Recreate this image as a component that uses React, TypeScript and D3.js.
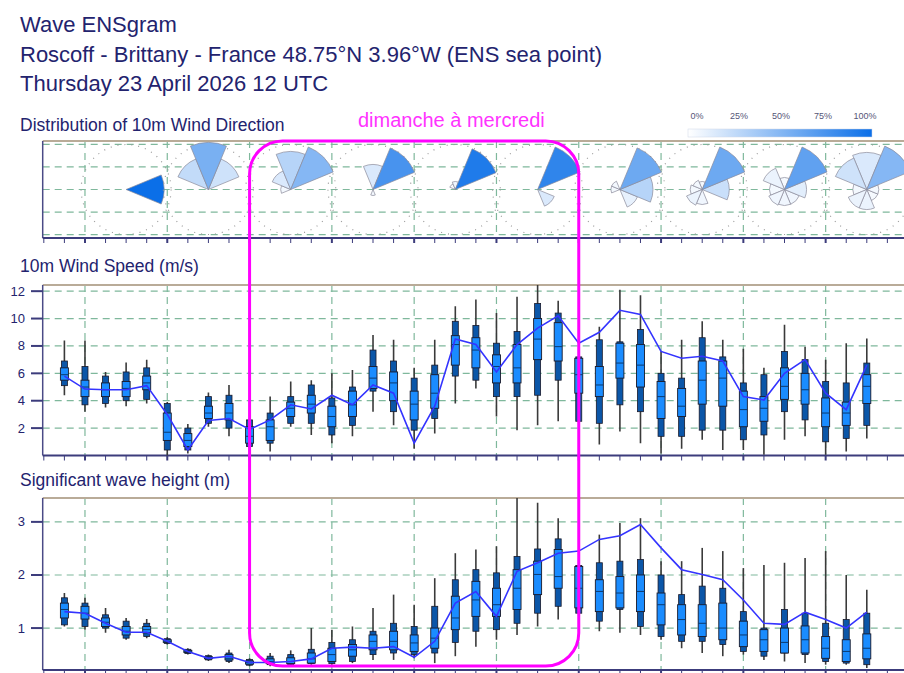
import React from 'react';
import * as d3 from 'd3';

const W = 904;
const H = 673;

const titleLines = [
  'Wave ENSgram',
  'Roscoff - Brittany - France 48.75°N 3.96°W (ENS sea point)',
  'Thursday 23 April 2026 12 UTC',
];

// 10m wind speed ensemble (m/s), one value per 6h step
const windMin = [4.4, 3.2, 3.5, 3.6, 3.8, 0.0, 0.15, 2.1, 1.4, 0.0, 0.3, 2.1, 1.5, 0.9, 1.4, 3.2, 2.2, 0.5, 1.6, 3.8, 4.9, 2.85, 1.85, 2.2, 2.5, 2.35, 0.8, 1.75, 0.9, 0.15, 0.5, 1.15, 0.4, 0.4, 0.05, 1.15, 1.4, 0.05, 0.3, 1.25];
const windP10 = [5.1, 3.7, 3.8, 4.0, 4.1, 0.4, 0.4, 2.35, 2.0, 0.65, 0.9, 2.35, 2.35, 1.5, 2.2, 4.7, 3.2, 1.85, 2.7, 5.8, 5.5, 4.3, 4.3, 4.4, 5.5, 2.5, 2.35, 3.7, 3.2, 1.4, 1.4, 1.85, 1.85, 1.15, 1.5, 3.2, 2.6, 1.0, 1.25, 2.2];
const windP25 = [5.5, 4.3, 4.3, 4.3, 4.8, 1.1, 0.65, 2.7, 2.6, 0.9, 1.1, 2.85, 3.1, 2.1, 2.85, 4.9, 4.0, 2.6, 3.45, 6.6, 6.4, 5.3, 5.3, 7.0, 6.9, 4.55, 4.3, 5.65, 5.0, 2.7, 2.85, 3.75, 3.6, 2.1, 2.5, 4.1, 3.75, 2.1, 2.2, 3.8];
const windMed = [5.9, 5.0, 4.8, 4.9, 5.3, 1.7, 1.1, 3.1, 3.1, 1.4, 2.1, 3.45, 3.75, 2.85, 3.7, 5.65, 5.3, 3.75, 4.55, 8.1, 7.7, 6.5, 6.4, 8.5, 7.95, 5.9, 5.15, 6.75, 6.6, 4.3, 3.6, 5.5, 5.65, 3.35, 3.45, 5.05, 4.8, 3.1, 3.1, 5.05];
const windP75 = [6.4, 5.5, 5.3, 5.4, 5.8, 3.1, 1.6, 3.6, 3.8, 2.1, 2.6, 3.9, 4.4, 3.6, 4.7, 6.5, 6.1, 4.7, 5.9, 8.75, 8.6, 7.35, 8.1, 10.0, 9.7, 7.1, 6.5, 8.2, 8.1, 5.4, 4.9, 6.9, 6.9, 4.7, 4.3, 6.4, 6.0, 4.2, 3.9, 5.9];
const windP90 = [6.9, 6.5, 5.8, 6.1, 6.4, 3.8, 2.0, 4.3, 4.4, 2.6, 3.1, 4.3, 5.15, 4.2, 5.0, 7.7, 6.9, 5.65, 6.6, 9.8, 9.5, 8.2, 9.05, 11.1, 10.4, 7.2, 8.45, 8.3, 9.2, 6.0, 5.65, 8.6, 7.2, 5.3, 5.9, 7.6, 7.0, 5.4, 5.3, 6.75];
const windMax = [8.4, 8.4, 6.1, 6.8, 7.0, 3.9, 2.3, 4.6, 5.15, 2.7, 4.3, 5.4, 5.5, 6.0, 6.25, 8.8, 8.45, 6.4, 8.45, 10.9, 11.4, 10.4, 11.6, 12.5, 11.3, 9.2, 9.4, 12.1, 11.7, 7.6, 8.45, 9.8, 8.45, 7.8, 6.4, 9.55, 7.95, 7.0, 8.2, 8.55];
const windHres = [5.8, 4.85, 4.8, 4.8, 5.1, 3.0, 0.4, 2.55, 2.7, 1.9, 2.6, 3.7, 3.4, 4.4, 3.7, 5.15, 4.55, 0.9, 3.6, 8.5, 8.1, 6.1, 8.1, 9.3, 10.2, 8.2, 9.0, 10.6, 10.3, 7.6, 7.1, 7.25, 6.9, 4.3, 4.05, 6.0, 7.0, 4.55, 3.35, 6.6];

// significant wave height ensemble (m)
const waveMin = [1.03, 0.97, 0.91, 0.78, 0.81, 0.69, 0.5, 0.38, 0.34, 0.28, 0.28, 0.28, 0.31, 0.31, 0.34, 0.4, 0.4, 0.43, 0.34, 0.47, 0.65, 0.78, 0.87, 1.03, 1.16, 1.22, 0.94, 0.91, 0.87, 0.78, 0.62, 0.53, 0.47, 0.5, 0.4, 0.37, 0.34, 0.31, 0.31, 0.25];
const waveP10 = [1.06, 1.03, 1.0, 0.81, 0.84, 0.71, 0.52, 0.4, 0.37, 0.3, 0.31, 0.31, 0.33, 0.33, 0.37, 0.5, 0.53, 0.5, 0.53, 0.73, 0.94, 0.97, 1.09, 1.28, 1.41, 1.28, 1.13, 1.35, 1.03, 0.84, 0.75, 0.75, 0.69, 0.56, 0.47, 0.53, 0.5, 0.37, 0.34, 0.31];
const waveP25 = [1.19, 1.17, 1.03, 0.87, 0.91, 0.73, 0.54, 0.42, 0.4, 0.32, 0.33, 0.33, 0.34, 0.37, 0.47, 0.59, 0.59, 0.56, 0.62, 0.97, 1.22, 1.22, 1.35, 1.63, 1.75, 1.38, 1.31, 1.38, 1.31, 1.06, 0.87, 0.84, 0.78, 0.65, 0.56, 0.53, 0.53, 0.43, 0.37, 0.42];
const waveMed = [1.35, 1.28, 1.11, 0.94, 0.97, 0.75, 0.56, 0.44, 0.43, 0.35, 0.37, 0.37, 0.42, 0.5, 0.59, 0.75, 0.75, 0.72, 0.81, 1.19, 1.53, 1.44, 1.75, 2.01, 1.97, 1.75, 1.69, 1.66, 1.69, 1.44, 1.16, 1.09, 1.0, 0.87, 0.78, 0.73, 0.78, 0.62, 0.56, 0.62];
const waveP75 = [1.47, 1.41, 1.19, 1.03, 1.03, 0.78, 0.58, 0.46, 0.5, 0.38, 0.42, 0.44, 0.53, 0.62, 0.69, 0.87, 0.94, 0.87, 1.0, 1.6, 1.88, 1.75, 2.1, 2.26, 2.48, 2.16, 1.91, 1.97, 2.0, 1.66, 1.44, 1.44, 1.47, 1.13, 0.97, 1.0, 1.04, 0.84, 0.78, 0.89];
const waveP90 = [1.57, 1.47, 1.25, 1.13, 1.09, 0.8, 0.6, 0.48, 0.53, 0.41, 0.47, 0.5, 0.6, 0.73, 0.78, 0.94, 1.09, 1.03, 1.41, 1.91, 2.1, 2.04, 2.35, 2.49, 2.68, 2.18, 2.23, 2.26, 2.29, 2.0, 1.63, 1.79, 1.75, 1.31, 1.0, 1.35, 1.28, 1.09, 1.16, 1.28];
const waveMax = [1.66, 1.57, 1.38, 1.19, 1.17, 0.83, 0.62, 0.5, 0.59, 0.43, 0.53, 0.58, 1.0, 0.97, 1.03, 1.38, 1.63, 1.44, 1.94, 2.41, 2.48, 2.54, 3.45, 3.36, 3.07, 2.48, 2.76, 2.98, 3.07, 2.26, 2.26, 2.51, 2.45, 2.13, 2.19, 2.23, 2.32, 2.45, 2.0, 1.72];
const waveHres = [1.31, 1.28, 1.09, 0.92, 0.92, 0.75, 0.56, 0.43, 0.47, 0.35, 0.35, 0.37, 0.42, 0.62, 0.64, 0.62, 0.65, 0.45, 0.75, 1.47, 1.69, 1.22, 2.07, 2.23, 2.41, 2.45, 2.67, 2.74, 2.95, 2.51, 2.1, 2.01, 1.91, 1.53, 1.09, 1.07, 1.3, 1.16, 1.0, 1.3];

const windTicks = [2, 4, 6, 8, 10, 12];
const waveTicks = [1, 2, 3];

// wind roses, one per day, sectors N NE E SE S SW W NW
const roseSteps = [3, 7, 11, 15, 19, 23, 27, 31, 35, 39];
const roseDirs = ['N', 'NE', 'E', 'SE', 'S', 'SW', 'W', 'NW'];
const roseFreq = [
  [0, 0, 1.0, 0, 0, 0, 0, 0],
  [0.55, 0.2, 0, 0, 0, 0, 0, 0.25],
  [0.3, 0.5, 0, 0, 0, 0, 0.05, 0.15],
  [0.15, 0.75, 0, 0, 0.05, 0, 0, 0],
  [0.06, 0.92, 0, 0, 0, 0, 0, 0.02],
  [0, 0.85, 0, 0.15, 0, 0, 0, 0],
  [0, 0.6, 0.3, 0.1, 0, 0, 0.05, 0.05],
  [0.04, 0.6, 0.22, 0, 0.06, 0.08, 0.05, 0.05],
  [0.04, 0.65, 0.12, 0.06, 0.06, 0.06, 0.05, 0.08],
  [0.15, 0.5, 0.05, 0.04, 0.08, 0.08, 0.05, 0.2],
];
const roseLen = [
  [0, 0, 0.76, 0, 0, 0, 0, 0],
  [0.94, 0.66, 0, 0, 0, 0, 0, 0.66],
  [0.76, 0.92, 0, 0, 0, 0, 0.2, 0.4],
  [0.5, 0.9, 0, 0, 0.12, 0, 0, 0],
  [0.16, 0.88, 0, 0, 0, 0, 0, 0.12],
  [0, 0.92, 0, 0.36, 0, 0, 0, 0],
  [0, 0.9, 0.66, 0.38, 0, 0, 0.18, 0.18],
  [0.16, 0.92, 0.54, 0, 0.3, 0.34, 0.24, 0.2],
  [0.24, 0.92, 0.44, 0.32, 0.32, 0.34, 0.3, 0.46],
  [0.74, 0.94, 0.24, 0.24, 0.4, 0.4, 0.28, 0.68],
];
const legendTicks = [0, 25, 50, 75, 100];

const NAVY = '#23236e';
const GRID = '#7fb89c';
const FONT = 'Liberation Sans, Arial, Helvetica, sans-serif';

const steps = d3.range(windMed.length);
const x = d3.scaleLinear().domain([0, 39]).range([64.4, 866.8]);
const left = 42.7;
const right = x(41.2);
const dayLines = d3.range(1, 42, 4);
const tickSteps = d3.range(-1, 42);

const yRose = d3.scaleLinear().domain([-2.15, 2.15]).range([238, 141]);
const yWind = d3.scaleLinear().domain([0, 12.45]).range([455.5, 285]);
const yWave = d3.scaleLinear().domain([0.21, 3.45]).range([670, 498]);
const rRose = d3.scaleLinear().domain([0, 1]).range([0, 50]);
const roseColor = d3.scaleLinear<string>().domain([0, 1]).range(['#ffffff', '#0b6fe8']);
const legendX = d3.scaleLinear().domain([0, 100]).range([697, 865]);

function Frame({ y, ticks, fmt }: { y: d3.ScaleLinear<number, number>; ticks: number[]; fmt?: boolean }) {
  const [y0, y1] = y.range();
  return (
    <g>
      {ticks.map((t) => (
        <line key={'h' + t} x1={left} x2={right} y1={y(t)} y2={y(t)} stroke={GRID} strokeWidth={1.2} strokeDasharray="7,5" />
      ))}
      {dayLines.map((k) => (
        <line key={'v' + k} x1={x(k)} x2={x(k)} y1={y1} y2={y0} stroke={GRID} strokeWidth={1.2} strokeDasharray="7,5" />
      ))}
      <line x1={left} x2={right} y1={y1} y2={y1} stroke="#b9ab98" strokeWidth={1.8} />
      <line x1={left} x2={left} y1={y1} y2={y0} stroke="#4a4a86" strokeWidth={1.5} />
      <line x1={left} x2={right} y1={y0} y2={y0} stroke="#3c3c7c" strokeWidth={2} />
      {tickSteps.map((k) => (
        <line key={'t' + k} x1={x(k)} x2={x(k)} y1={y0} y2={y0 + 5} stroke="#3c3c7c" strokeWidth={(k - 1) % 4 === 0 ? 2 : 1} />
      ))}
      {fmt &&
        ticks.map((t) => (
          <g key={'l' + t}>
            <line x1={31} x2={left} y1={y(t)} y2={y(t)} stroke="#3c3c7c" strokeWidth={2} />
            <text x={25} y={y(t) + 4.5} textAnchor="end" fontSize={13} fill={NAVY} fontFamily={FONT}>
              {t}
            </text>
          </g>
        ))}
    </g>
  );
}

function Boxes({ y, mn, p10, p25, med, p75, p90, mx, hres }: any) {
  const line = d3
    .line<number>()
    .x((k) => x(k))
    .y((k) => y(hres[k]));
  return (
    <g>
      {steps.map((k) => (
        <g key={k}>
          <line x1={x(k)} x2={x(k)} y1={y(mn[k])} y2={y(mx[k])} stroke="#3a3a3a" strokeWidth={1.6} />
          <rect x={x(k) - 3} width={6} y={y(p90[k])} height={Math.max(1, y(p10[k]) - y(p90[k]))} fill="#0b56a8" stroke="#1a1a2a" strokeWidth={0.8} />
          <rect x={x(k) - 4} width={8} y={y(p75[k])} height={Math.max(1, y(p25[k]) - y(p75[k]))} fill="#1a8cff" stroke="#1a1a2a" strokeWidth={0.9} />
          <line x1={x(k) - 4} x2={x(k) + 4} y1={y(med[k])} y2={y(med[k])} stroke="#0b3a70" strokeWidth={1} />
        </g>
      ))}
      <path d={line(steps) || ''} fill="none" stroke="#3434ff" strokeWidth={1.6} />
    </g>
  );
}

export default function App() {
  const arc = d3.arc<any>();
  return (
    <svg width={W} height={H} style={{ position: 'absolute', left: 0, top: 0, background: '#fff' }}>
      <defs>
        <linearGradient id="lg" x1="0" x2="1" y1="0" y2="0">
          <stop offset="0" stopColor={roseColor(0)} />
          <stop offset="1" stopColor={roseColor(1)} />
        </linearGradient>
        <clipPath id="cw">
          <rect x={left} y={285} width={W} height={171} />
        </clipPath>
        <clipPath id="cv">
          <rect x={left} y={498} width={W} height={172} />
        </clipPath>
      </defs>

      {titleLines.map((t, i) => (
        <text key={i} x={20} y={32 + i * 29.5} fontSize={22} fill={NAVY} fontFamily={FONT}>
          {t}
        </text>
      ))}

      <text x={20} y={131} fontSize={17.5} fill={NAVY} fontFamily={FONT}>
        Distribution of 10m Wind Direction
      </text>
      <text x={20} y={272} fontSize={17.5} fill={NAVY} fontFamily={FONT}>
        10m Wind Speed (m/s)
      </text>
      <text x={20} y={486} fontSize={17.5} fill={NAVY} fontFamily={FONT}>
        Significant wave height (m)
      </text>

      {/* legend */}
      <rect x={688} y={129} width={184} height={8} fill="url(#lg)" stroke="#d0d8e8" strokeWidth={0.5} />
      {legendTicks.map((t) => (
        <text key={t} x={legendX(t)} y={119} fontSize={9} textAnchor="middle" fill="#555577" fontFamily={FONT}>
          {t}%
        </text>
      ))}

      {/* wind direction roses */}
      <Frame y={yRose} ticks={[-2, -1, 0, 1, 2]} />
      {roseSteps.map((k, i) => {
        const order = d3.range(roseDirs.length).sort((a, b) => roseFreq[i][a] - roseFreq[i][b]);
        return (
          <g key={k} transform={`translate(${x(k)},${yRose(0)})`}>
            <circle r={45} fill="none" stroke="#9a9a9a" strokeWidth={1.2} strokeDasharray="1,6" />
            {order
              .filter((d) => roseFreq[i][d] > 0)
              .map((d) => (
                <path
                  key={d}
                  d={
                    arc({
                      innerRadius: 0,
                      outerRadius: rRose(roseLen[i][d]),
                      startAngle: ((d * 45 - 22.5) * Math.PI) / 180,
                      endAngle: ((d * 45 + 22.5) * Math.PI) / 180,
                    }) || ''
                  }
                  fill={roseColor(roseFreq[i][d])}
                  stroke="#8a8a9a"
                  strokeWidth={0.7}
                />
              ))}
          </g>
        );
      })}

      {/* wind speed */}
      <Frame y={yWind} ticks={windTicks} fmt />
      <g clipPath="url(#cw)">
        <Boxes y={yWind} mn={windMin} p10={windP10} p25={windP25} med={windMed} p75={windP75} p90={windP90} mx={windMax} hres={windHres} />
      </g>

      {/* wave height */}
      <Frame y={yWave} ticks={waveTicks} fmt />
      <g clipPath="url(#cv)">
        <Boxes y={yWave} mn={waveMin} p10={waveP10} p25={waveP25} med={waveMed} p75={waveP75} p90={waveP90} mx={waveMax} hres={waveHres} />
      </g>

      {/* highlighted period */}
      <rect x={x(9)} y={141} width={x(25) - x(9)} height={525} rx={33} fill="none" stroke="#ff00ff" strokeWidth={3} />
      <text x={358} y={127} fontSize={20} fill="#ff33ff" fontFamily={FONT}>
        dimanche à mercredi
      </text>
    </svg>
  );
}
